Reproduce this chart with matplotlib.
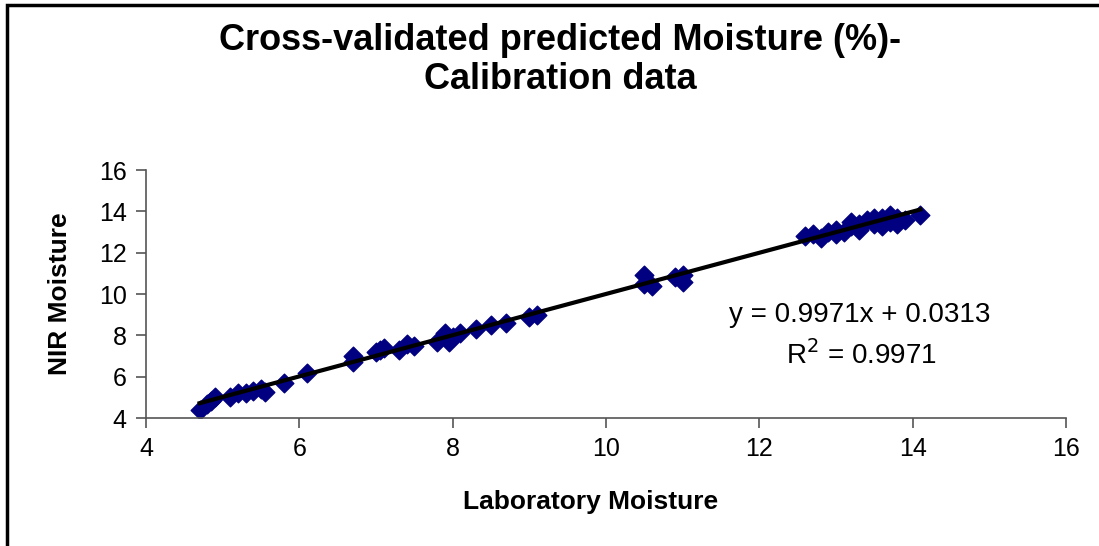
import numpy as np
import matplotlib.pyplot as plt
from matplotlib.patches import Rectangle

plt.rcParams['font.family'] = ['Liberation Sans', 'DejaVu Sans']

# Laboratory vs NIR moisture
lab = [4.7, 4.8, 4.85, 4.9, 5.1, 5.2, 5.3, 5.4, 5.5, 5.55, 5.8, 6.1,
       6.7, 6.7, 7.0, 7.05, 7.1, 7.3, 7.4, 7.5, 7.8, 7.9, 7.95, 8.0,
       8.1, 8.3, 8.5, 8.7, 9.0, 9.1, 10.5, 10.5, 10.6, 10.9, 11.0, 11.0,
       12.6, 12.7, 12.8, 12.9, 13.0, 13.0, 13.1, 13.2, 13.2, 13.3, 13.3,
       13.4, 13.5, 13.5, 13.6, 13.6, 13.7, 13.7, 13.8, 13.8, 13.9, 14.1]
nir = [4.4, 4.7, 4.8, 5.0, 5.0, 5.2, 5.2, 5.3, 5.4, 5.25, 5.7, 6.2,
       7.0, 6.7, 7.2, 7.3, 7.4, 7.3, 7.6, 7.5, 7.7, 8.1, 7.7, 7.9,
       8.1, 8.3, 8.5, 8.6, 8.9, 9.0, 10.9, 10.5, 10.4, 10.8, 10.6, 10.9,
       12.8, 12.9, 12.7, 13.0, 13.1, 12.9, 13.0, 13.3, 13.5, 13.4, 13.1,
       13.6, 13.4, 13.7, 13.7, 13.3, 13.5, 13.8, 13.7, 13.4, 13.6, 13.8]

slope = 0.9971
intercept = 0.0313
r2 = 0.9971

fig = plt.figure(figsize=(10.99, 5.46), dpi=100)
ax = fig.add_axes([0.1328, 0.2344, 0.8372, 0.4542])

ax.scatter(lab, nir, marker='D', s=90, color='#000080', zorder=2)
xl = np.array([min(lab), max(lab)])
ax.plot(xl, slope * xl + intercept, color='black', lw=3, zorder=3)

ax.set_xlim(4, 16)
ax.set_ylim(4, 16)
ax.set_xticks([4, 6, 8, 10, 12, 14, 16])
ax.set_yticks([4, 6, 8, 10, 12, 14, 16])
for s in ['top', 'right']:
    ax.spines[s].set_visible(False)
for s in ['left', 'bottom']:
    ax.spines[s].set_color('#555555')
    ax.spines[s].set_linewidth(1.2)
ax.tick_params(direction='out', length=7, width=1.2, color='#555555',
               labelsize=18, pad=7)

ax.set_xlabel('Laboratory Moisture', fontsize=19, fontweight='bold', va='center')
ax.set_ylabel('NIR Moisture', fontsize=19, fontweight='bold', va='center')
ax.xaxis.set_label_coords(0.483, -0.339)
ax.yaxis.set_label_coords(-0.0935, 0.5)

fig.text(0.51, 0.89, 'Cross-validated predicted Moisture (%)-\nCalibration data',
         ha='center', va='center', fontsize=26, fontweight='bold', linespacing=1.12)

ax.text(0.776, 0.415, 'y = %.4fx + %.4f' % (slope, intercept), transform=ax.transAxes,
        ha='center', va='center', fontsize=20)
ax.text(0.778, 0.254, 'R$^2$ = %.4f' % r2, transform=ax.transAxes,
        ha='center', va='center', fontsize=20)

fig.patches.append(Rectangle((7 / 1099, -0.1), 1.2, 1.1 - 5 / 546, transform=fig.transFigure,
                             fill=False, edgecolor='black', lw=2.5))

fig.savefig('out.png', dpi=100)
